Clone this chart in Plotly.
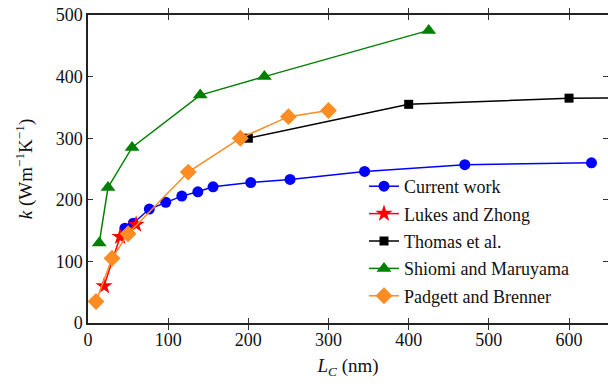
import plotly.graph_objects as go

# Data
cw_x = [46, 56.5, 76.5, 97, 117, 137, 156, 203, 252, 345, 470, 628]
cw_y = [154, 162, 185, 196, 206, 213, 221, 228, 233, 246, 257, 260]

lz_x = [20, 40, 60]
lz_y = [60, 140, 160]

th_x = [200, 400, 600, 800]
th_y = [300, 355, 365, 366]

sm_x = [14, 25, 55, 140, 220, 425]
sm_y = [130, 220, 285, 370, 400, 475]

pb_x = [10, 30, 50, 125, 190, 250, 300]
pb_y = [35, 105, 145, 245, 300, 335, 345]

x_ticks = [0, 100, 200, 300, 400, 500, 600]
y_ticks = [0, 100, 200, 300, 400, 500]

FONT = "Liberation Serif"
FS = 18
TXT = "#111111"

fig = go.Figure()

series = [
    ("Current work", cw_x, cw_y, "#0000ff", "circle", 11),
    ("Lukes and Zhong", lz_x, lz_y, "#ff0000", "star", 13),
    ("Thomas et al.", th_x, th_y, "#000000", "square", 9),
    ("Shiomi and Maruyama", sm_x, sm_y, "#008000", "triangle-up", 13),
    ("Padgett and Brenner", pb_x, pb_y, "#ff8c22", "diamond", 13),
]
for i, (name, xs, ys, col, sym, sz) in enumerate(series):
    fig.add_trace(go.Scatter(
        x=xs, y=ys, name=name, mode="lines+markers",
        line=dict(color=col, width=1.5),
        marker=dict(symbol=sym, size=sz, color=col, line=dict(width=0)),
        legendgroup=f"g{i}", cliponaxis=True,
    ))

# invisible trace for the right-side tick axis
fig.add_trace(go.Scatter(x=[0], y=[0], yaxis="y2", mode="markers",
                         marker=dict(opacity=0), showlegend=False, hoverinfo="skip"))

fig.update_layout(
    width=608, height=386,
    margin=dict(l=88, r=0, t=15, b=63),
    paper_bgcolor="white", plot_bgcolor="white",
    font=dict(family=FONT, size=FS, color=TXT),
    showlegend=True,
    legend=dict(
        x=(364 - 88) / 520.0, y=(323 - 314) / 308.0,
        xanchor="left", yanchor="bottom",
        font=dict(family=FONT, size=FS, color=TXT),
        bgcolor="rgba(0,0,0,0)", itemwidth=30, tracegroupgap=1,
    ),
    xaxis=dict(
        range=[0, 648.6], tickvals=x_ticks, ticks="inside", ticklen=5,
        tickcolor="#333", showline=True, linecolor="#222", linewidth=1.5,
        mirror="allticks", showgrid=False, zeroline=False,
        tickfont=dict(family=FONT, size=FS, color=TXT),
        title=dict(text="<i>L</i><sub><i>C</i></sub> (nm)", standoff=9,
                   font=dict(family=FONT, size=FS + 1, color=TXT)),
    ),
    yaxis=dict(
        range=[0, 500], tickvals=y_ticks, ticks="inside", ticklen=5,
        tickcolor="#333", showline=True, linecolor="#222", linewidth=1.5,
        mirror=False, showgrid=False, zeroline=False,
        tickfont=dict(family=FONT, size=FS, color=TXT),
        title=dict(text="<i>k</i> (Wm<sup>−1</sup>K<sup>−1</sup>)", standoff=18,
                   font=dict(family=FONT, size=FS + 1, color=TXT)),
    ),
    yaxis2=dict(
        range=[0, 500], tickvals=y_ticks, ticks="inside", ticklen=5,
        tickcolor="#333", showline=False, showticklabels=False,
        overlaying="y", side="right", showgrid=False, zeroline=False,
    ),
)

fig.write_html("out.html")
